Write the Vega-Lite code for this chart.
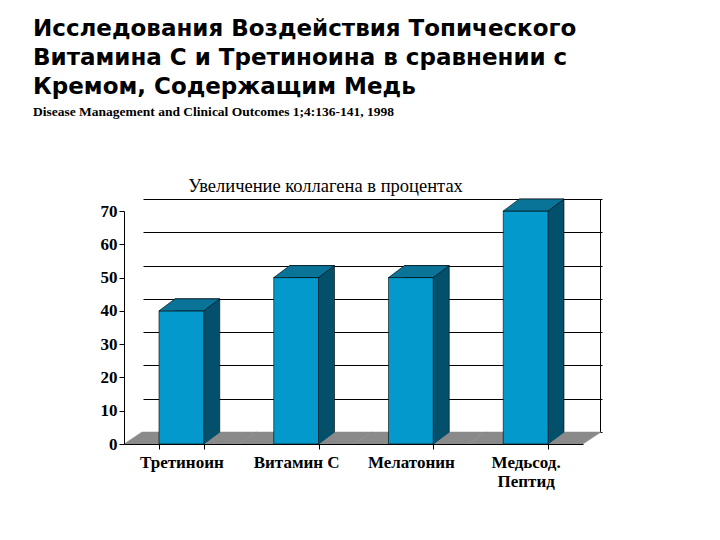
{
  "$schema": "https://vega.github.io/schema/vega-lite/v6.json",
  "width": 458,
  "height": 233,
  "autosize": {"type": "none"},
  "padding": {"left": 142, "top": 199, "right": 120, "bottom": 108},
  "background": "white",
  "config": {"view": {"stroke": null}},
  "title": {
    "text": ["Исследования Воздействия Топического", "Витамина С и Третиноина в сравнении с", "Кремом, Содержащим Медь"],
    "subtitle": "Disease Management and Clinical Outcomes  1;4:136-141, 1998",
    "anchor": "start",
    "frame": "group",
    "dx": -109,
    "offset": 58,
    "font": "DejaVu Sans",
    "fontWeight": "bold",
    "fontSize": 23,
    "lineHeight": 29,
    "color": "black",
    "subtitleFont": "Liberation Serif",
    "subtitleFontWeight": "bold",
    "subtitleFontSize": 13.5,
    "subtitleColor": "black",
    "subtitlePadding": 6
  },
  "data": {
    "values": [
      {"category": "Третиноин", "value": 40},
      {"category": "Витамин С", "value": 50},
      {"category": "Мелатонин", "value": 50},
      {"category": "Медьсод. Пептид", "value": 70}
    ]
  },
  "layer": [
    {
      "mark": {"type": "bar", "color": "#03506c", "stroke": "black", "strokeWidth": 0.6},
      "encoding": {
        "x": {
          "field": "category",
          "type": "nominal",
          "sort": null,
          "scale": {"range": [-2, 457], "paddingInner": 0.61, "paddingOuter": 0.305},
          "axis": null
        },
        "y": {
          "field": "value",
          "type": "quantitative",
          "scale": {"domain": [0, 70], "range": [233, 0], "nice": false},
          "axis": {
            "orient": "right",
            "values": [0, 10, 20, 30, 40, 50, 60, 70],
            "grid": true,
            "gridColor": "black",
            "gridWidth": 1,
            "gridOpacity": 1,
            "ticks": false,
            "labels": false,
            "domain": true,
            "domainColor": "black",
            "title": "Увеличение коллагена в процентах",
            "titleAngle": 0,
            "titleX": -275,
            "titleY": -8,
            "titleAlign": "center",
            "titleBaseline": "alphabetic",
            "titleFont": "Liberation Serif",
            "titleFontWeight": "normal",
            "titleFontSize": 18.5,
            "titleColor": "black"
          }
        }
      }
    },
    {
      "encoding": {
        "x": {
          "field": "category",
          "type": "nominal",
          "sort": null,
          "scale": {"range": [-18, 441], "paddingInner": 0.61, "paddingOuter": 0.305},
          "axis": {
            "title": null,
            "orient": "bottom",
            "offset": 12,
            "zindex": 1,
            "labelAngle": 0,
            "domainColor": "black",
            "tickColor": "black",
            "tickBand": "extent",
            "tickSize": 5,
            "labelFont": "Liberation Serif",
            "labelFontWeight": "bold",
            "labelFontSize": 17,
            "labelColor": "black",
            "labelPadding": 5,
            "labelLineHeight": 19,
            "labelExpr": "datum.value == 'Медьсод. Пептид' ? ['Медьсод.', 'Пептид'] : datum.value"
          }
        }
      },
      "layer": [
        {
          "mark": {"type": "point", "shape": "M-57.4,0L57.4,0L75.4,-12L-39.4,-12Z", "size": 4, "filled": true, "fill": "#8a8a8a", "stroke": "#8a8a8a", "strokeWidth": 0.5, "opacity": 1},
          "encoding": {
            "y": {
              "datum": 0,
              "type": "quantitative",
              "scale": {"domain": [0, 70], "range": [245, 12], "nice": false},
              "axis": {"title": null, "orient": "left", "offset": 18, "zindex": 1, "values": [0, 10, 20, 30, 40, 50, 60, 70], "grid": false, "domainColor": "black", "tickColor": "black", "tickSize": 5, "labelFont": "Liberation Serif", "labelFontWeight": "bold", "labelFontSize": 17, "labelColor": "black", "labelPadding": 2}
            }
          }
        },
        {
          "mark": {"type": "point", "shape": "M22.4,-12L38.4,-12L22.4,0Z", "size": 4, "filled": true, "fill": "#03506c", "stroke": "#03506c", "strokeWidth": 1, "opacity": 1},
          "encoding": {
            "y": {
              "datum": 0,
              "type": "quantitative",
              "scale": {"domain": [0, 70], "range": [245, 12], "nice": false},
              "axis": {"title": null, "orient": "left", "offset": 18, "zindex": 1, "values": [0, 10, 20, 30, 40, 50, 60, 70], "grid": false, "domainColor": "black", "tickColor": "black", "tickSize": 5, "labelFont": "Liberation Serif", "labelFontWeight": "bold", "labelFontSize": 17, "labelColor": "black", "labelPadding": 2}
            }
          }
        },
        {
          "mark": {"type": "bar", "color": "#0499cc", "stroke": "black", "strokeWidth": 0.6},
          "encoding": {
            "y": {
              "field": "value",
              "type": "quantitative",
              "scale": {"domain": [0, 70], "range": [245, 12], "nice": false},
              "axis": {"title": null, "orient": "left", "offset": 18, "zindex": 1, "values": [0, 10, 20, 30, 40, 50, 60, 70], "grid": false, "domainColor": "black", "tickColor": "black", "tickSize": 5, "labelFont": "Liberation Serif", "labelFontWeight": "bold", "labelFontSize": 17, "labelColor": "black", "labelPadding": 2}
            }
          }
        },
        {
          "mark": {"type": "point", "shape": "M-22.4,0L22.4,0L38.4,-12L-6.4,-12Z", "size": 4, "filled": true, "fill": "#0a7398", "stroke": "black", "strokeWidth": 0.6, "opacity": 1},
          "encoding": {
            "y": {
              "field": "value",
              "type": "quantitative",
              "scale": {"domain": [0, 70], "range": [245, 12], "nice": false},
              "axis": {"title": null, "orient": "left", "offset": 18, "zindex": 1, "values": [0, 10, 20, 30, 40, 50, 60, 70], "grid": false, "domainColor": "black", "tickColor": "black", "tickSize": 5, "labelFont": "Liberation Serif", "labelFontWeight": "bold", "labelFontSize": 17, "labelColor": "black", "labelPadding": 2}
            }
          }
        }
      ]
    }
  ],
  "resolve": {"scale": {"x": "independent", "y": "independent"}}
}
